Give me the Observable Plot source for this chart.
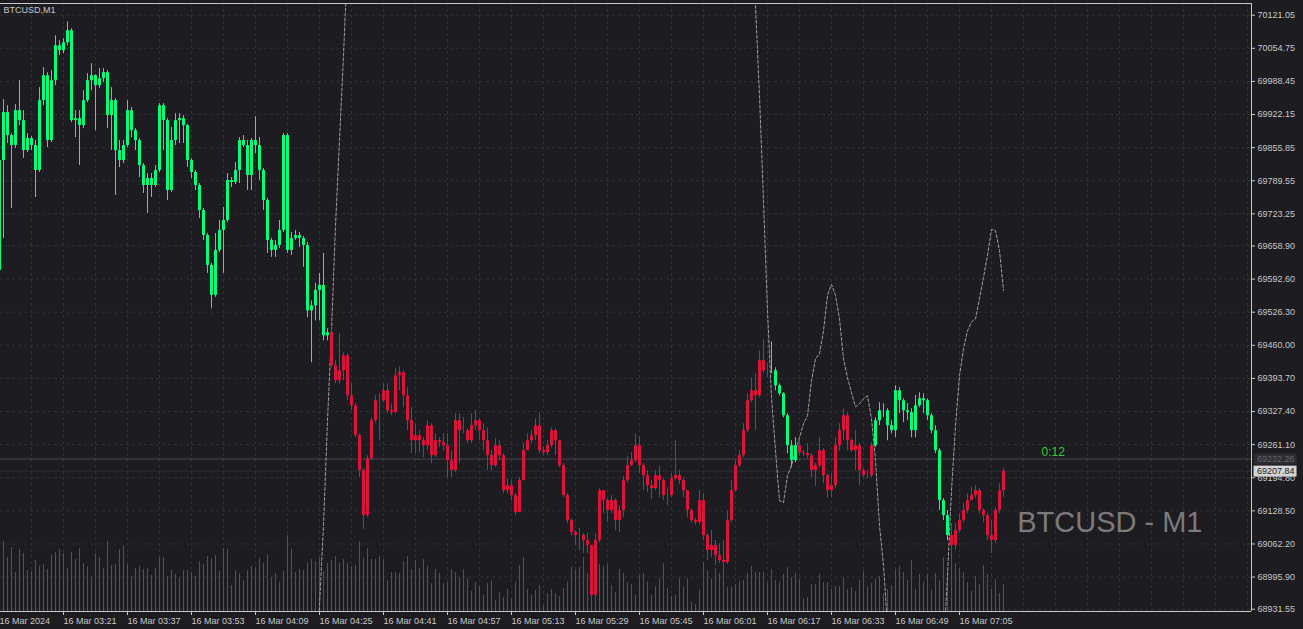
<!DOCTYPE html>
<html><head><meta charset="utf-8">
<script src="https://cdn.jsdelivr.net/npm/d3@7"></script>
<script src="https://cdn.jsdelivr.net/npm/@observablehq/plot@0.6"></script>
<style>
html,body{margin:0;padding:0;background:#1c1c21;overflow:hidden}
</style></head><body><div id="chart"></div>
<script>
const symbolTitle = "BTCUSD,M1";
const watermark = "BTCUSD - M1";
const countdown = "0:12";
const askPrice = 69232.26;
const bidPrice = 69207.84;
const priceMin = 68926.94, priceMax = 70144.48;
const barMin = 0.25, barMax = 313;
const firstOpen = 69610;

const closes = [69830,69926,69880,69860,69930,69910,69850,69874,69860,69810,
69950,70000,69870,69990,70060,70050,70066,70090,69910,69914,
69900,69950,69990,70000,69980,69994,70006,69920,69950,69850,
69830,69860,69930,69890,69870,69820,69780,69794,69780,69810,
69940,69910,69770,69870,69910,69914,69900,69830,69806,69780,
69730,69680,69620,69560,69650,69690,69710,69790,69786,69810,
69870,69860,69800,69870,69860,69810,69750,69670,69650,69660,
69690,69880,69650,69674,69680,69674,69660,69529,69539,69570,
69580,69479,69485,69419,69389,69409,69439,69359,69339,69279,
69209,69119,69233,69309,69349,69349,69369,69329,69325,69399,
69405,69359,69309,69269,69279,69269,69259,69299,69239,69269,
69265,69259,69229,69209,69309,69289,69289,69269,69299,69309,
69289,69269,69239,69219,69259,69239,69169,69179,69159,69125,
69189,69249,69269,69279,69299,69249,69245,69259,69289,69269,
69219,69159,69109,69085,69079,69079,69069,69059,68959,69069,
69169,69149,69129,69149,69109,69129,69189,69219,69229,69259,
69219,69199,69179,69173,69199,69189,69159,69159,69193,69199,
69189,69169,69129,69109,69105,69149,69079,69049,69059,69039,
69029,69025,69109,69169,69219,69239,69289,69349,69369,69359,
69429,69409,69409,69409,69379,69363,69319,69259,69229,69259,
69245,69243,69239,69209,69219,69249,69199,69169,69179,69259,
69289,69319,69269,69249,69259,69209,69199,69199,69259,69309,
69329,69329,69299,69289,69369,69349,69329,69325,69289,69339,
69353,69349,69319,69289,69249,69149,69119,69079,69059,69089,
69109,69129,69149,69159,69169,69129,69119,69079,69069,69129,
69169,69207.84];

const highs = [69834,69952,69940,69884,69942,69990,69930,69884,69878,69870,
69976,70016,70006,70010,70080,70070,70074,70108,70094,69930,
69930,69970,70004,70024,70002,70014,70014,70010,69976,69954,
69870,69870,69950,69936,69894,69874,69824,69804,69804,69820,
69944,69944,69914,69896,69924,69924,69920,69902,69834,69810,
69784,69734,69684,69624,69684,69710,69736,69804,69796,69826,
69876,69880,69870,69874,69918,69876,69814,69754,69674,69670,
69710,69884,69884,69686,69690,69686,69678,69666,69549,69584,
69604,69644,69493,69493,69429,69483,69445,69443,69383,69343,
69283,69213,69239,69315,69359,69363,69383,69383,69343,69413,
69417,69409,69375,69335,69303,69289,69275,69309,69303,69283,
69275,69283,69283,69249,69323,69323,69315,69293,69323,69329,
69313,69303,69295,69249,69273,69269,69243,69193,69189,69163,
69195,69263,69283,69289,69313,69325,69257,69269,69295,69293,
69269,69223,69163,69113,69089,69093,69083,69083,69059,69083,
69173,69169,69153,69159,69153,69139,69197,69237,69245,69283,
69277,69223,69209,69189,69209,69217,69193,69175,69203,69269,
69209,69195,69169,69133,69113,69169,69163,69083,69089,69069,
69063,69069,69129,69189,69229,69249,69303,69363,69395,69403,
69449,69471,69425,69467,69415,69383,69365,69323,69269,69275,
69269,69249,69263,69243,69223,69275,69253,69203,69203,69275,
69303,69333,69325,69273,69289,69263,69213,69209,69265,69315,
69345,69343,69333,69309,69379,69375,69353,69343,69333,69359,
69365,69363,69353,69323,69299,69253,69153,69129,69103,69103,
69123,69143,69163,69175,69179,69173,69133,69123,69109,69135,
69183,69213];

const lows = [69606,69674,69864,69734,69854,69900,69834,69846,69850,69756,
69806,69940,69856,69866,69980,70040,70044,70060,69906,69876,
69820,69894,69946,69970,69890,69974,69986,69894,69850,69760,
69816,69824,69856,69876,69850,69796,69764,69724,69756,69776,
69806,69850,69750,69766,69860,69864,69864,69816,69794,69770,
69714,69670,69604,69533,69556,69646,69604,69706,69776,69782,
69784,69856,69770,69770,69844,69790,69730,69644,69636,69636,
69654,69686,69644,69640,69670,69656,69616,69515,69425,69509,
69509,69469,69469,69415,69383,69383,69389,69349,69329,69275,
69195,69091,69115,69229,69305,69269,69345,69323,69319,69323,
69369,69335,69289,69243,69243,69245,69235,69249,69223,69235,
69255,69249,69195,69195,69205,69223,69283,69263,69263,69289,
69269,69249,69209,69209,69215,69229,69163,69163,69149,69119,
69125,69189,69249,69263,69269,69243,69239,69239,69255,69239,
69215,69155,69103,69079,69059,69049,69043,69043,68953,68957,
69065,69123,69105,69123,69089,69085,69115,69185,69217,69225,
69203,69169,69165,69151,69169,69155,69149,69139,69155,69189,
69181,69155,69115,69103,69099,69101,69069,69029,69035,69019,
69023,69015,69021,69105,69165,69215,69235,69285,69345,69289,
69355,69403,69395,69403,69369,69359,69315,69243,69215,69225,
69239,69237,69233,69195,69177,69215,69183,69155,69155,69173,
69249,69269,69249,69245,69209,69179,69195,69193,69195,69255,
69299,69315,69269,69283,69275,69323,69305,69309,69275,69275,
69335,69323,69309,69283,69243,69129,69109,69069,69035,69049,
69085,69105,69123,69149,69153,69123,69105,69069,69043,69063,
69123,69155];

const volumes = [96,140,108,128,78,124,116,82,80,102,
90,94,84,112,118,124,116,86,118,104,
126,96,90,68,116,108,86,140,92,94,
124,132,94,70,86,90,84,86,72,86,
108,108,70,82,74,68,82,82,78,70,
100,94,110,106,112,80,126,124,52,82,
76,62,82,90,88,106,96,114,68,76,
58,80,152,126,78,84,82,98,104,100,
106,80,96,102,110,96,104,96,90,92,
140,106,126,104,104,110,104,62,78,78,
76,100,110,84,102,86,104,90,56,84,
76,56,58,84,78,68,84,66,40,58,
50,32,56,62,22,38,28,44,26,58,
92,108,44,32,42,52,12,36,44,36,
30,46,58,88,82,88,108,76,62,68,
94,90,94,52,38,84,76,58,54,32,
72,76,60,32,50,66,96,46,30,32,
66,50,66,18,14,42,98,82,64,86,
76,88,48,50,54,60,62,76,90,78,
78,78,58,84,62,58,74,88,68,76,
64,26,28,54,54,74,58,58,44,50,
50,68,44,48,40,62,80,50,56,64,
70,36,44,52,84,90,78,62,102,44,
74,58,74,42,76,62,108,82,110,96,
86,78,58,40,70,54,92,74,44,64,
36,54];

// trend colouring of candles: first bar index of each run
const trendStarts = [0, 83, 193, 200, 219, 238];
const trendDirs = ["up", "down", "up", "down", "up", "down"];

// dashed indicator line, in price units, three visible runs
const ind1Start = 79;
const ind1 = [68789,68939,69099,69309,69489,69700,69870,70040,70230];
const ind2Start = 187;
const ind2 = [70270,70190,70140,69960,69750,69529,69355,69249,69149,69145,
69199,69219,69249,69275,69303,69319,69389,69433,69443,69489,
69560,69582,69560,69513,69433,69395,69365,69337,69343,69353,
69359,69313,69229,69099,69019,68899,68789];
const ind3Start = 236;
const ind3 = [68849,68999,69169,69299,69399,69453,69489,69507,69513,69554,
69596,69640,69692,69690,69650,69570];

const timeLabels = ["16 Mar 2024","16 Mar 03:21","16 Mar 03:37","16 Mar 03:53","16 Mar 04:09",
"16 Mar 04:25","16 Mar 04:41","16 Mar 04:57","16 Mar 05:13","16 Mar 05:29","16 Mar 05:45",
"16 Mar 06:01","16 Mar 06:17","16 Mar 06:33","16 Mar 06:49","16 Mar 07:05"];
const timeBars = [0,16,32,48,64,80,96,112,128,144,160,176,192,208,224,240];
const gridBars = d3.range(0, 313, 8);
const priceTicks = [70121.05,70054.75,69988.45,69922.15,69855.85,69789.55,69723.25,69658.90,
69592.60,69526.30,69460.00,69393.70,69327.40,69261.10,69194.80,69128.50,69062.20,68995.90,68931.55];

const bg = "#1c1c21", upColor = "#00ff7f", downColor = "#dc143c";
const gridColor = "#303036", axisColor = "#c8c8c8";

const bars = closes.map((c, i) => ({
  i, c, o: i ? closes[i - 1] : firstOpen, h: highs[i], l: lows[i], v: volumes[i],
  col: trendDirs[d3.bisectRight(trendStarts, i) - 1] === "up" ? upColor : downColor
}));
const indPts = [];
[[ind1Start, ind1], [ind2Start, ind2], [ind3Start, ind3]].forEach(([s, arr], k) =>
  arr.forEach((p, j) => indPts.push({i: s + j, p, seg: k})));

const chart = Plot.plot({
  width: 1303, height: 629,
  marginLeft: 0, marginRight: 52, marginTop: 3, marginBottom: 18,
  x: {domain: [barMin, barMax]},
  y: {domain: [priceMin, priceMax]},
  style: {background: bg, color: axisColor, fontFamily: "'Liberation Sans', Arial, sans-serif", fontSize: "9px"},
  marks: [
    Plot.ruleX(gridBars, {x: d => d, stroke: gridColor, strokeDasharray: "3,3"}),
    Plot.ruleY(priceTicks, {y: d => d, stroke: gridColor, strokeDasharray: "3,3"}),
    Plot.ruleX(bars, {x: "i", y1: priceMin, y2: d => priceMin + d.v, stroke: "#138013"}),
    Plot.ruleY([bidPrice], {y: d => d, stroke: "#2f2f35"}),
    Plot.ruleY([askPrice], {y: d => d, stroke: "#48484e"}),
    Plot.line(indPts, {x: "i", y: "p", z: "seg", stroke: "#a0a0a0", strokeWidth: 1, strokeDasharray: "3,2", clip: true}),
    Plot.ruleX(bars, {x: "i", y1: "l", y2: "h", stroke: "col", clip: true}),
    Plot.ruleX(bars, {x: "i", y1: "o", y2: "c", stroke: "col", strokeWidth: 3, clip: true}),
    Plot.ruleY([priceMin, priceMax], {y: d => d, stroke: axisColor}),
    Plot.ruleX([barMax], {x: d => d, stroke: axisColor}),
    Plot.axisY({anchor: "right", ticks: priceTicks, tickFormat: d => d.toFixed(2), tickSize: 3, tickPadding: 3, label: null, fontSize: 9}),
    Plot.axisX({anchor: "bottom", ticks: timeBars, tickFormat: d => timeLabels[timeBars.indexOf(d)], tickSize: 4, tickPadding: 2, textAnchor: "start", label: null, fontSize: 9}),
    Plot.text([askPrice], {y: d => d, text: d => d.toFixed(2), frameAnchor: "right", dx: 5.5, textAnchor: "start", lineAnchor: "middle", fill: "#66666c", fontSize: 9}),
    Plot.text([bidPrice], {y: d => d, text: d => d.toFixed(2), frameAnchor: "right", dx: 5.5, textAnchor: "start", lineAnchor: "middle", fill: "#1c1c21", fontSize: 9}),
    Plot.text([countdown], {y: askPrice, text: d => d, frameAnchor: "right", dx: -210, dy: -6.5, textAnchor: "start", lineAnchor: "middle", fill: "#32cd32", fontSize: 12}),
    Plot.text([symbolTitle], {text: d => d, frameAnchor: "top-left", dx: 3, dy: 7, textAnchor: "start", lineAnchor: "middle", fill: axisColor, fontSize: 9}),
    Plot.text([watermark], {text: d => d, frameAnchor: "bottom-right", dx: -49, dy: -88.5, textAnchor: "end", lineAnchor: "middle", fill: "#7b7b7b", fontSize: 29})
  ]
});
document.getElementById("chart").appendChild(chart);

// boxes behind the current price labels
[[askPrice, "#2b2b31"], [bidPrice, "#d4d4d4"]].forEach(([p, fill]) => {
  const label = p.toFixed(2);
  d3.select(chart).selectAll("text").filter(function() { return this.textContent === label; }).each(function() {
    const bb = this.getBBox();
    const r = document.createElementNS("http://www.w3.org/2000/svg", "rect");
    r.setAttribute("x", bb.x - 3.5);
    r.setAttribute("y", bb.y - 0.5);
    r.setAttribute("width", bb.width + 5.5);
    r.setAttribute("height", bb.height + 1);
    r.setAttribute("fill", fill);
    const t = this.getAttribute("transform");
    if (t) r.setAttribute("transform", t);
    this.parentNode.insertBefore(r, this);
  });
});
</script></body></html>
